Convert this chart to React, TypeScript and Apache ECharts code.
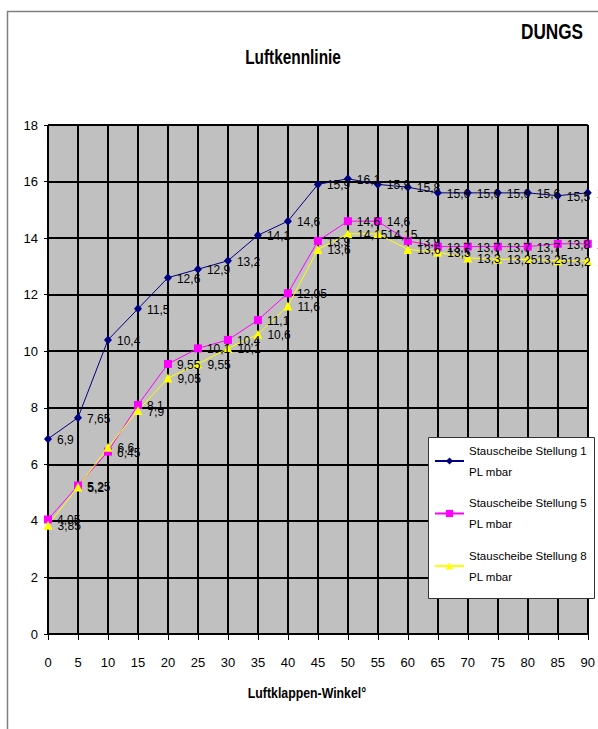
import React, { useEffect, useRef } from "react";
import * as echarts from "echarts";

const angles = ["0", "5", "10", "15", "20", "25", "30", "35", "40", "45", "50", "55", "60", "65", "70", "75", "80", "85", "90"];
const stellung1 = [6.9, 7.65, 10.4, 11.5, 12.6, 12.9, 13.2, 14.1, 14.6, 15.9, 16.1, 15.9, 15.8, 15.6, 15.6, 15.6, 15.6, 15.5, 15.6];
const stellung5 = [4.05, 5.25, 6.45, 8.1, 9.55, 10.1, 10.4, 11.1, 12.05, 13.9, 14.6, 14.6, 13.9, 13.7, 13.7, 13.7, 13.7, 13.8, 13.8];
const stellung8 = [3.85, 5.2, 6.6, 7.9, 9.05, 9.55, 10.1, 10.6, 11.6, 13.6, 14.15, 14.15, 13.6, 13.5, 13.3, 13.25, 13.25, 13.2, 13.2];
const seriesNames = ["Stauscheibe Stellung 1 PL mbar", "Stauscheibe Stellung 5 PL mbar", "Stauscheibe Stellung 8 PL mbar"];
const yTicks = { min: 0, max: 18, interval: 2 };
const titleText = "Luftkennlinie";
const brandText = "DUNGS";
const xAxisTitle = "Luftklappen-Winkel°";

const FONT = "'Liberation Sans', Arial, sans-serif";

export default function App() {
  const ref = useRef<HTMLDivElement>(null);
  useEffect(() => {
    if (!ref.current) return;
    const chart = echarts.init(ref.current, null, { renderer: "svg" });
    const label = {
      show: true,
      position: "right",
      distance: 5,
      offset: [0, 1],
      color: "#000",
      fontSize: 12,
      fontFamily: FONT,
      formatter: (p: any) => String(p.value).replace(".", ","),
    };
    const mk = (name: string, data: number[], color: string, symbol: string, size: number | number[]) => ({
      name,
      type: "line",
      data,
      symbol,
      symbolSize: size,
      showSymbol: true,
      color,
      lineStyle: { color, width: 1 },
      itemStyle: { color },
      label,
      emphasis: { disabled: true },
    });
    chart.setOption({
      animation: false,
      backgroundColor: "#fff",
      textStyle: { fontFamily: FONT },
      grid: { left: 48, right: 4, top: 125, bottom: 95, show: true, backgroundColor: "#C0C0C0", borderWidth: 0 },
      xAxis: {
        type: "category",
        data: angles,
        boundaryGap: false,
        axisLine: { show: true, lineStyle: { color: "#000", width: 1 } },
        axisTick: { show: true, length: 6, interval: 0, lineStyle: { color: "#000" } },
        axisLabel: { color: "#000", fontSize: 13, margin: 22, interval: 0, fontFamily: FONT },
        splitLine: { show: true, interval: 0, lineStyle: { color: "#000", width: 2 } },
      },
      yAxis: {
        type: "value",
        min: yTicks.min,
        max: yTicks.max,
        interval: yTicks.interval,
        axisLine: { show: true, lineStyle: { color: "#000", width: 1 } },
        axisTick: { show: true, length: 4, lineStyle: { color: "#000" } },
        axisLabel: { color: "#000", fontSize: 13, margin: 10, fontFamily: FONT },
        splitLine: { show: true, lineStyle: { color: "#000", width: 2 } },
      },
      legend: {
        orient: "vertical",
        left: 434,
        top: 429.5,
        padding: 0,
        itemGap: -10.5,
        itemWidth: 29,
        itemHeight: 9,
        z: 100,
        selectedMode: false,
        formatter: (n: string) => n.replace(" PL mbar", "\nPL mbar"),
        textStyle: { color: "#000", fontSize: 11.5, lineHeight: 21, padding: [21, 0, 0, 0], fontFamily: FONT },
        data: seriesNames,
      },
      graphic: {
        elements: [
          { type: "rect", z: 0, silent: true, shape: { x: 7.5, y: 11.5, width: 700, height: 800 }, style: { fill: "none", stroke: "#808080", lineWidth: 1.5 } },
          { type: "rect", z: 50, silent: true, shape: { x: 428.5, y: 437.5, width: 166, height: 161 }, style: { fill: "#fff", stroke: "#333", lineWidth: 1 } },
          { type: "text", z: 50, x: 293, y: 57, scaleX: 0.77, style: { text: titleText, fontSize: 20, fontWeight: "bold", fontFamily: FONT, fill: "#000", align: "center", verticalAlign: "middle" } },
          { type: "text", z: 50, x: 552, y: 31, scaleX: 0.8, style: { text: brandText, fontSize: 21.5, fontWeight: "bold", fontFamily: FONT, fill: "#000", align: "center", verticalAlign: "middle" } },
          { type: "text", z: 50, x: 307, y: 693, scaleX: 0.85, style: { text: xAxisTitle, fontSize: 14.5, fontWeight: "bold", fontFamily: FONT, fill: "#000", align: "center", verticalAlign: "middle" } },
        ],
      },
      series: [
        mk(seriesNames[0], stellung1, "#000080", "diamond", [8, 9]),
        mk(seriesNames[1], stellung5, "#FF00FF", "rect", 8),
        mk(seriesNames[2], stellung8, "#FFFF00", "triangle", 9),
      ],
    });
    return () => chart.dispose();
  }, []);
  return <div ref={ref} style={{ position: "absolute", left: 0, top: 0, width: 598, height: 729 }} />;
}
